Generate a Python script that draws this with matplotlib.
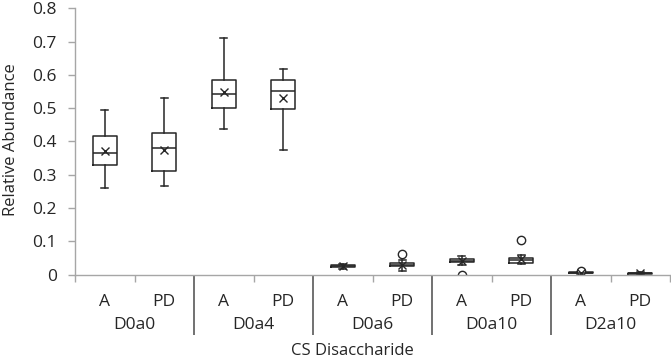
import matplotlib
matplotlib.use("Agg")
import matplotlib.pyplot as plt
import matplotlib.transforms as mtransforms

plt.rcParams['font.family'] = ['Open Sans', 'DejaVu Sans']

groups = ['D0a0', 'D0a4', 'D0a6', 'D0a10', 'D2a10']
subs = ['A', 'PD']

# per box: whisker low, Q1, median, Q3, whisker high, mean
wlo = [0.259, 0.266, 0.437, 0.375, 0.018, 0.010, 0.030, 0.033, 0.003, 0.002]
q1 = [0.330, 0.311, 0.500, 0.498, 0.022, 0.025, 0.037, 0.036, 0.004, 0.002]
med = [0.366, 0.380, 0.542, 0.552, 0.027, 0.030, 0.042, 0.043, 0.006, 0.004]
q3 = [0.417, 0.426, 0.584, 0.584, 0.030, 0.036, 0.047, 0.050, 0.008, 0.006]
whi = [0.495, 0.530, 0.712, 0.618, 0.033, 0.045, 0.055, 0.058, 0.009, 0.007]
mean = [0.371, 0.374, 0.549, 0.532, 0.025, 0.030, 0.040, 0.046, 0.004, 0.004]
fliers = [[], [], [], [], [], [0.062], [0.0], [0.103], [0.012], []]

dark = '#262626'
grey = '#a6a6a6'

fig = plt.figure(figsize=(6.71, 3.61), dpi=100)
ax = fig.add_axes([75 / 671, 1 - 274.7 / 361, 595 / 671, (274.7 - 8.3) / 361])

stats = []
for i in range(len(med)):
    stats.append({'whislo': wlo[i], 'q1': q1[i], 'med': med[i], 'q3': q3[i],
                  'whishi': whi[i], 'mean': mean[i], 'fliers': fliers[i]})
pos = [i + 0.5 for i in range(len(med))]
ax.bxp(stats, positions=pos, widths=0.4, showmeans=True, capwidths=0.12,
       boxprops=dict(color=dark, lw=1.1),
       medianprops=dict(color=dark, lw=1.1),
       whiskerprops=dict(color=dark, lw=1.1),
       capprops=dict(color=dark, lw=1.1),
       meanprops=dict(marker='x', markeredgecolor=dark, markersize=5.5, mew=1.0),
       flierprops=dict(marker='o', markerfacecolor='white', markeredgecolor=dark,
                       markersize=6, mew=1.0))

ax.set_xlim(0, 10)
ax.set_ylim(0, 0.8)
ax.set_yticks([0, 0.1, 0.2, 0.3, 0.4, 0.5, 0.6, 0.7, 0.8])
ax.set_yticklabels(['0', '0.1', '0.2', '0.3', '0.4', '0.5', '0.6', '0.7', '0.8'])
ax.tick_params(axis='y', colors=grey, labelcolor=dark, labelsize=12.5, length=5,
               width=1, pad=8)

for s in ['top', 'right']:
    ax.spines[s].set_visible(False)
ax.spines['left'].set_color(grey)
ax.spines['bottom'].set_color(grey)
ax.spines['left'].set_linewidth(1)
ax.spines['bottom'].set_linewidth(1)

# short ticks at ends and between A / PD, long separators between groups
ax.set_xticks([0, 1, 3, 5, 7, 9, 10])
ax.set_xticklabels([])
ax.tick_params(axis='x', colors=grey, length=5, width=1)
ax.set_xticks([2, 4, 6, 8], minor=True)
ax.tick_params(axis='x', which='minor', colors='#595959', length=43, width=1.2)

trans = mtransforms.blended_transform_factory(ax.transData, ax.transAxes)
for gi, g in enumerate(groups):
    for si, s in enumerate(subs):
        ax.annotate(s, (gi * 2 + si + 0.5, 0), xycoords=trans, xytext=(0, -19.5),
                    textcoords='offset points', ha='center', va='center',
                    fontsize=12.5, color=dark)
    ax.annotate(g, (gi * 2 + 1, 0), xycoords=trans, xytext=(0, -36.5),
                textcoords='offset points', ha='center', va='center',
                fontsize=12.5, color=dark)

fig.text(352 / 671, 1 - 351 / 361, 'CS Disaccharide', ha='center', va='center',
         fontsize=12, color=dark)
fig.text(11 / 671, 1 - 140 / 361, 'Relative Abundance', rotation=90, ha='center',
         va='center', fontsize=12, color=dark)

fig.savefig('out.png', dpi=100)
